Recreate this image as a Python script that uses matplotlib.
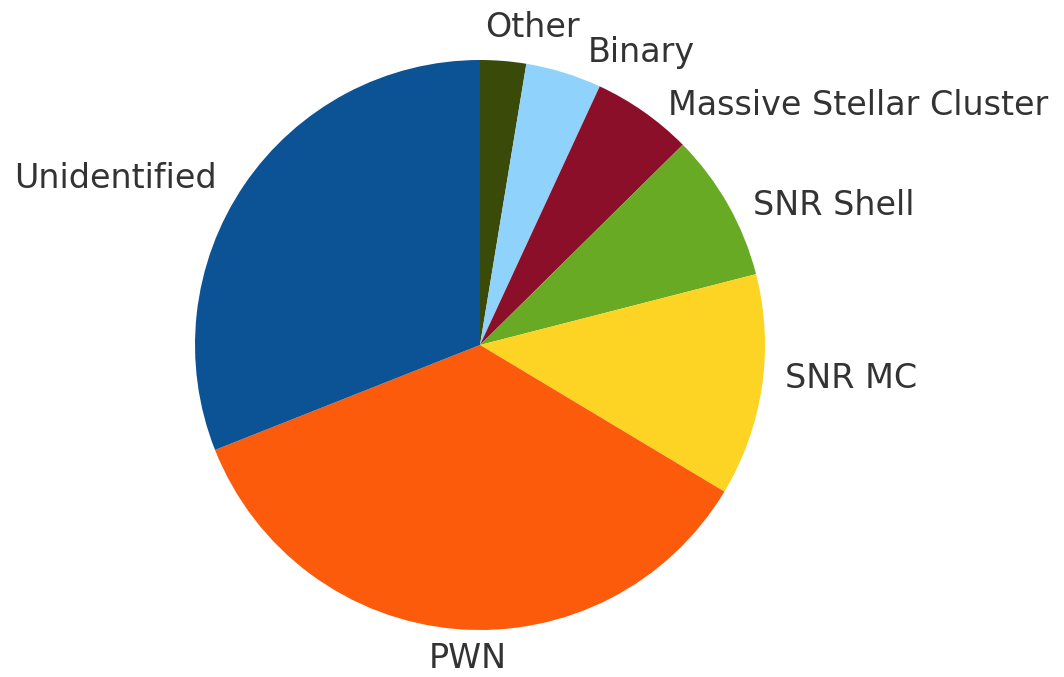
import matplotlib
matplotlib.use("Agg")
import matplotlib.pyplot as plt

labels = ["Other", "Binary", "Massive Stellar Cluster", "SNR Shell", "SNR MC", "PWN", "Unidentified"]
shares = [2.6, 4.3, 5.7, 8.4, 12.6, 35.4, 31.0]
colors = ["#3a4a08", "#8fd2fc", "#8c0f2a", "#68aa24", "#fdd424", "#fb5b0b", "#0b5394"]

fig = plt.figure(figsize=(10.64, 6.77), dpi=100)
# pie centre at ~(480, 345) px, radius ~285 px
ax = fig.add_axes([138/1064, -10/677, 684/1064, 684/677])
wedges, texts = ax.pie(shares, labels=labels, colors=colors, startangle=90,
                       counterclock=False, labeldistance=1.1,
                       textprops=dict(fontsize=24, color="#333333"))
ax.set_xlim(-1.2, 1.2)
ax.set_ylim(-1.2, 1.2)
ax.axis("off")

# label anchors in image pixels (x, baseline y from top), as in the original
anchors = [(485, 37, "left"), (588, 62, "left"), (668, 115, "left"), (753, 215, "left"),
           (785, 388, "left"), (468, 668, "center"), (217, 188, "right")]
for t, (px, py, ha) in zip(texts, anchors):
    t.set_position(((px - 480) / 285, (345 - py) / 285))
    t.set_ha(ha)
    t.set_va("baseline")

fig.savefig("out.png", dpi=100)
